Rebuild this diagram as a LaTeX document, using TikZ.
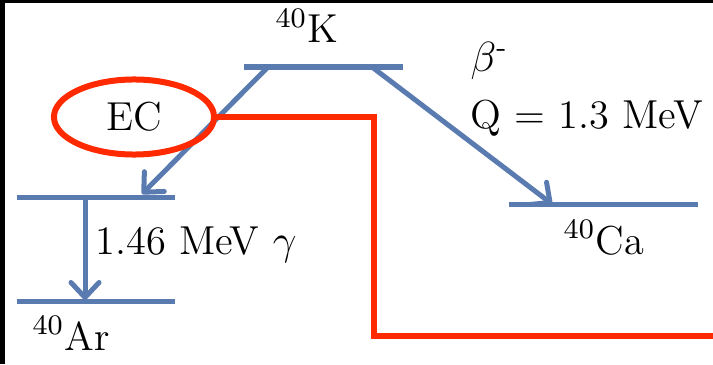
\documentclass[tikz,border=0pt]{standalone}
\usetikzlibrary{arrows.meta,shapes.geometric}
\definecolor{levelblue}{HTML}{5A7BB0}
\definecolor{ecred}{HTML}{FF2A00}

\begin{document}
\begin{tikzpicture}[x=0.01cm, y=-0.01cm,
    level/.style={draw=levelblue, line width=0.05cm},
    decay/.style={draw=levelblue, line width=0.05cm,
                  -{Straight Barb[length=1.5mm, width=2.8mm, round]}},
    lbl/.style={font=\fontsize{11.5}{14}\selectfont, inner sep=0pt, anchor=base west},
    ecmark/.style={ellipse, draw=ecred, line width=0.06cm, minimum width=1.6cm,
                   minimum height=0.75cm, inner sep=0pt, font=\fontsize{11.5}{14}\selectfont},
    ecline/.style={draw=ecred, line width=0.06cm},
]
\useasboundingbox (0,0) rectangle (713,364);
% frame edges
\fill[black] (0,0) rectangle (713,3);
\fill[black] (0,0) rectangle (5,364);

% Levels
\coordinate (kL) at (244,67);   \coordinate (kR) at (403,67);
\coordinate (arxL) at (17,197); \coordinate (arxR) at (175,197);
\coordinate (arL) at (17,301);  \coordinate (arR) at (175,301);
\coordinate (caL) at (509,204); \coordinate (caR) at (698,204);
\foreach \a/\b in {kL/kR, arxL/arxR, arL/arR, caL/caR}
    \draw[level] (\a) -- (\b);

% Decays
\coordinate (ecS) at (268,67);  \coordinate (ecE) at (142,194);
\coordinate (gS) at (85,197);   \coordinate (gE) at (85,300);
\coordinate (bS) at (372,67);   \coordinate (bE) at (552,204);
\foreach \a/\b in {ecS/ecE, gS/gE, bS/bE}
    \draw[decay] (\a) -- (\b);

% Labels
\node[lbl] (k) at (275,43) {\textsuperscript{40}K};
\node[lbl] (beta) at (470,72) {$\beta$\textsuperscript{-}};
\node[lbl] (q) at (470,128) {Q = 1.3 MeV};
\node[lbl] (gam) at (95,254) {1.46 MeV $\gamma$};
\node[lbl] (ar) at (32,350) {\textsuperscript{40}Ar};
\node[lbl] (ca) at (563,254) {\textsuperscript{40}Ca};

% EC highlight
\node[ecmark] (ec) at (134,117) {EC};
\coordinate (rc) at (374,336);
\coordinate (rend) at (713,336);
\draw[ecline] (ec.east) -| (rc) -- (rend);
\end{tikzpicture}
\end{document}
